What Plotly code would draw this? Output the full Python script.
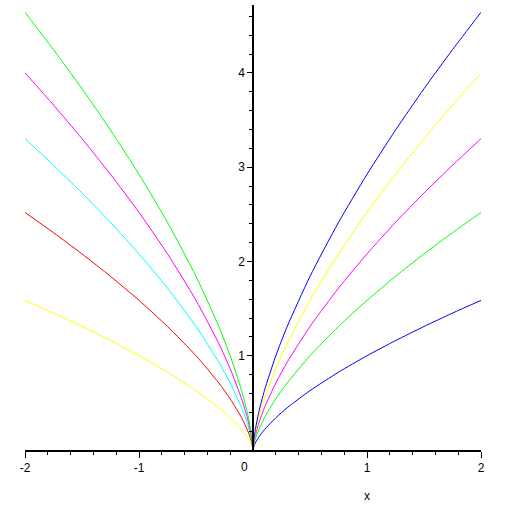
import plotly.graph_objects as go

# sampled |x| positions (right branch); left branch uses the negatives
x_abs = [0, 0.01, 0.02, 0.05, 0.1, 0.2, 0.3, 0.5, 0.75, 1.0, 1.25, 1.5, 1.75, 2.0]

y_k1 = [0, 0.046, 0.074, 0.136, 0.215, 0.342, 0.448, 0.630, 0.825, 1.000, 1.160, 1.310, 1.452, 1.587]
y_k2 = [0, 0.074, 0.117, 0.215, 0.342, 0.543, 0.711, 1.000, 1.310, 1.587, 1.842, 2.080, 2.305, 2.520]
y_k3 = [0, 0.097, 0.153, 0.282, 0.448, 0.711, 0.932, 1.310, 1.717, 2.080, 2.414, 2.726, 3.020, 3.302]
y_k4 = [0, 0.117, 0.186, 0.342, 0.543, 0.862, 1.129, 1.587, 2.080, 2.520, 2.924, 3.302, 3.659, 4.000]
y_k5 = [0, 0.136, 0.215, 0.397, 0.630, 1.000, 1.310, 1.842, 2.414, 2.924, 3.393, 3.832, 4.246, 4.642]

series = [y_k1, y_k2, y_k3, y_k4, y_k5]
left_colors = ["#FFFF00", "#FF0000", "#00FFFF", "#FF00FF", "#00FF00"]
right_colors = ["#0000FF", "#00FF00", "#FF00FF", "#FFFF00", "#0000FF"]

x_ticks = [-2, -1, 1, 2]
y_ticks = [1, 2, 3, 4]

fig = go.Figure()
for ys, cl, cr in zip(series, left_colors, right_colors):
    fig.add_trace(go.Scatter(x=[-v for v in x_abs], y=ys, mode="lines",
                             line=dict(color=cl, width=1, shape="spline", smoothing=0.6),
                             showlegend=False, hoverinfo="skip"))
    fig.add_trace(go.Scatter(x=x_abs, y=ys, mode="lines",
                             line=dict(color=cr, width=1, shape="spline", smoothing=0.6),
                             showlegend=False, hoverinfo="skip"))

font = dict(family="Liberation Sans, Arial, sans-serif", size=12, color="black")

fig.update_layout(
    width=505, height=505,
    margin=dict(l=25, r=24, t=5, b=55, autoexpand=False),
    paper_bgcolor="white", plot_bgcolor="white",
    font=font,
    xaxis=dict(range=[-2, 2], showgrid=False, zeroline=False, automargin=False,
               showline=True, linecolor="black", linewidth=1.5,
               tickmode="array", tickvals=x_ticks, ticktext=[str(v) for v in x_ticks],
               ticks="outside", ticklen=6, tickwidth=1, tickcolor="black",
               minor=dict(tickmode="array",
                          tickvals=[-1.8, -1.6, -1.4, -1.2, -0.8, -0.6, -0.4, -0.2,
                                    0.2, 0.4, 0.6, 0.8, 1.2, 1.4, 1.6, 1.8],
                          ticks="outside", ticklen=3, tickcolor="black"),
               tickfont=font),
    yaxis=dict(range=[0, 4.72], showgrid=False, zeroline=False, automargin=False,
               showline=True, linecolor="black", linewidth=1.5,
               anchor="free", position=0.5,
               tickmode="array", tickvals=y_ticks, ticktext=[str(v) for v in y_ticks],
               ticks="outside", ticklen=5, tickwidth=1, tickcolor="black",
               minor=dict(tickmode="array",
                          tickvals=[0.2, 0.4, 0.6, 0.8, 1.2, 1.4, 1.6, 1.8, 2.2, 2.4, 2.6, 2.8,
                                    3.2, 3.4, 3.6, 3.8, 4.2, 4.4, 4.6],
                          ticks="outside", ticklen=3, tickcolor="black"),
               tickfont=font),
    annotations=[
        dict(x=0, y=0, xref="x", yref="y", text="0", showarrow=False,
             xshift=-9, yshift=-17, font=font),
        dict(x=1, y=0, xref="x", yref="y", text="x", showarrow=False,
             yshift=-46, font=font),
    ],
)

fig.write_html("out.html",
               config={"displayModeBar": False},
               post_script="document.body.style.margin='0';document.body.style.overflow='hidden';")
